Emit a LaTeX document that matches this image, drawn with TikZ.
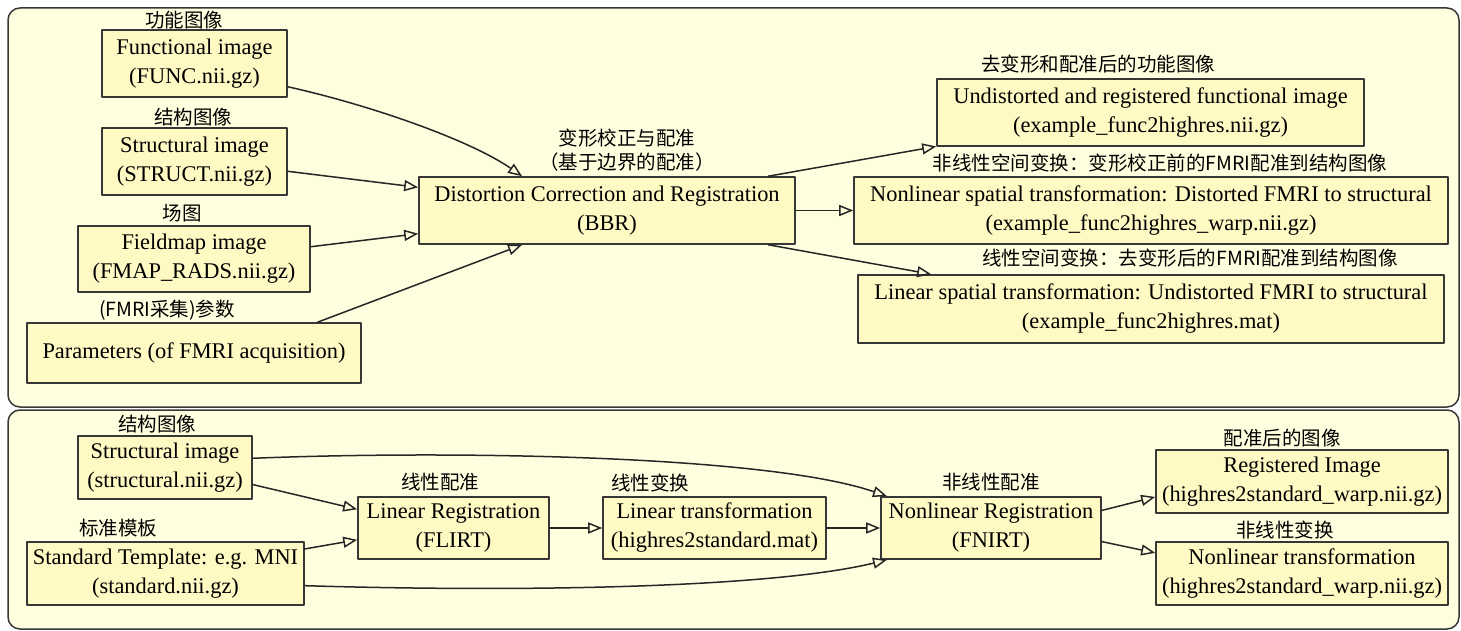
\documentclass[tikz,border=0pt]{standalone}
\usepackage{fontspec}
\setmainfont{Liberation Serif}
\newfontfamily\enserif{Liberation Serif}
\newfontfamily\cjk{Noto Sans CJK SC}
\usetikzlibrary{arrows.meta}
\definecolor{panelfill}{RGB}{255,255,224}
\definecolor{boxfill}{RGB}{255,249,196}
\definecolor{boxline}{RGB}{55,55,55}
\tikzset{
    panel/.style = {draw=boxline, fill=panelfill, line width=1.5pt, rounded corners=12pt},
    box/.style = {draw=boxline, fill=boxfill, line width=1.6pt, align=center, inner sep=0pt,
                  font=\enserif\fontsize{22.4}{29}\selectfont},
    cnlab/.style = {inner sep=0pt, align=center, font=\cjk\fontsize{19.5}{24}\selectfont},
    edge/.style = {draw=black!85, line width=1.5pt, -{Triangle[open,length=14pt,width=11pt]}}
}

\begin{document}
\begin{tikzpicture}[line cap=round, line join=round, x=1pt, y=-1pt]
\useasboundingbox (0,0) rectangle (1461,631);
\fill[white] (0,0) rectangle (1461,631);
\draw [panel] (8,8) rectangle (1459,407);
\draw [panel] (8,410) rectangle (1459,629);
% top panel
\node [box, minimum width=185, minimum height=67] (func) at (194.5,63.5) {Functional image\\(FUNC.nii.gz)};
\node [box, minimum width=185, minimum height=67] (struct) at (194.5,161.5) {Structural image\\(STRUCT.nii.gz)};
\node [box, minimum width=232, minimum height=66] (fmap) at (194,259) {Fieldmap image\\(FMAP\_RADS.nii.gz)};
\node [box, minimum width=334, minimum height=60] (params) at (194,353) {Parameters (of FMRI acquisition)};
\node [box, minimum width=376, minimum height=67] (dcr) at (607,210.5) {Distortion Correction and Registration\\(BBR)};
\node [box, minimum width=427, minimum height=67] (undist) at (1150.5,112.5) {Undistorted and registered functional image\\(example\_func2highres.nii.gz)};
\node [box, minimum width=594, minimum height=67] (warp) at (1151,210.5) {Nonlinear spatial transformation: Distorted FMRI to structural\\(example\_func2highres\_warp.nii.gz)};
\node [box, minimum width=586, minimum height=68] (linmat) at (1151,309) {Linear spatial transformation: Undistorted FMRI to structural\\(example\_func2highres.mat)};
\node [cnlab] (func-cn) at (184,20) {功能图像};
\node [cnlab] (struct-cn) at (193,117) {结构图像};
\node [cnlab] (fmap-cn) at (182,213) {场图};
\node [cnlab] (params-cn) at (167,310) {(FMRI采集)参数};
\node [cnlab] (dcr-cn) at (627,150) {变形校正与配准\\（基于边界的配准）};
\node [cnlab] (undist-cn) at (1098,64) {去变形和配准后的功能图像};
\node [cnlab] (warp-cn) at (1160,163) {非线性空间变换：变形校正前的FMRI配准到结构图像};
\node [cnlab] (linmat-cn) at (1190,258) {线性空间变换：去变形后的FMRI配准到结构图像};
\draw [edge] (func.-14) .. controls (370,105) and (470,140) .. (dcr.158);
\draw [edge] (struct.-6) -- (dcr.173);
\draw [edge] (fmap.6) -- (dcr.187);
\draw [edge] (params.14) -- (dcr.202);
\draw [edge] (dcr.12) -- (undist.189);
\draw [edge] (dcr.east) -- (warp.west);
\draw [edge] (dcr.-12) -- (linmat.171);
% bottom panel
\node [box, minimum width=174, minimum height=63] (hires) at (165,467.5) {Structural image\\(structural.nii.gz)};
\node [box, minimum width=277, minimum height=63] (std) at (165.5,573.5) {Standard Template: e.g. MNI\\(standard.nii.gz)};
\node [box, minimum width=191, minimum height=62] (flirt) at (453.5,528) {Linear Registration\\(FLIRT)};
\node [box, minimum width=223, minimum height=62] (affine) at (714.5,528) {Linear transformation\\(highres2standard.mat)};
\node [box, minimum width=220, minimum height=62] (fnirt) at (991,528) {Nonlinear Registration\\(FNIRT)};
\node [box, minimum width=292, minimum height=63] (reg) at (1302,481.5) {Registered Image\\(highres2standard\_warp.nii.gz)};
\node [box, minimum width=292, minimum height=63] (nlwarp) at (1302,573.5) {Nonlinear transformation\\(highres2standard\_warp.nii.gz)};
\node [cnlab] (hires-cn) at (157,424) {结构图像};
\node [cnlab] (std-cn) at (118,528) {标准模板};
\node [cnlab] (flirt-cn) at (440,482) {线性配准};
\node [cnlab] (affine-cn) at (650,483) {线性变换};
\node [cnlab] (fnirt-cn) at (991,482) {非线性配准};
\node [cnlab] (reg-cn) at (1282,438) {配准后的图像};
\node [cnlab] (nlwarp-cn) at (1285,530) {非线性变换};
\draw [edge] (hires.6) .. controls (460,450) and (770,456) .. (fnirt.163);
\draw [edge] (hires.-11) -- (flirt.169);
\draw [edge] (std.10) -- (flirt.187);
\draw [edge] (std.-5) .. controls (550,593) and (780,586) .. (fnirt.197);
\draw [edge] (flirt.east) -- (affine.west);
\draw [edge] (affine.east) -- (fnirt.west);
\draw [edge] (fnirt.9) -- (reg.186);
\draw [edge] (fnirt.-7) -- (nlwarp.172);
\end{tikzpicture}
\end{document}
